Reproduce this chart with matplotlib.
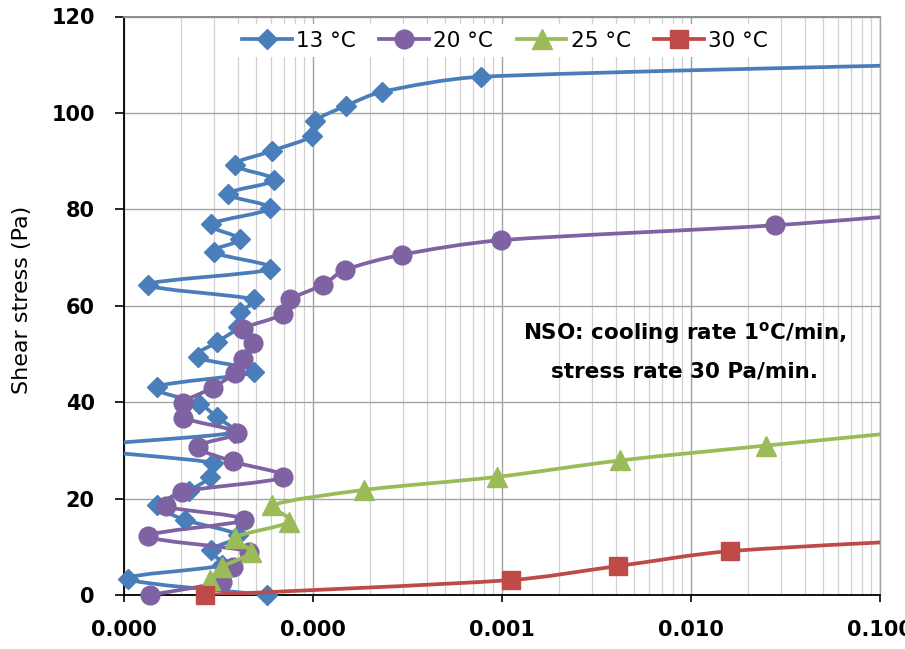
import numpy as np
import matplotlib
matplotlib.use("Agg")
import matplotlib.pyplot as plt
from matplotlib.path import Path
from matplotlib.patches import PathPatch
from matplotlib.lines import Line2D
from matplotlib.ticker import LogLocator, FormatStrFormatter, NullFormatter

# shear rate (1/s) vs shear stress (Pa) for each temperature
stress_13 = [0.0, 3.3, 6.2, 9.4, 12.4, 15.6, 18.7, 21.6, 24.5, 27.4, 30.6, 33.7,
             36.9, 39.7, 43.2, 46.3, 49.3, 52.4, 55.5, 58.6, 61.3, 64.4, 67.6,
             71.1, 73.8, 76.9, 80.2, 83.2, 86.1, 89.2, 92.1, 95.2, 98.3, 101.5,
             104.4, 107.5, 110.5]
rate_13 = [5.7e-5, 1.05e-5, 3.3e-5, 2.9e-5, 4.0e-5, 2.1e-5, 1.5e-5, 2.2e-5,
           2.85e-5, 2.95e-5, 6.5e-6, 3.8e-5, 3.1e-5, 2.5e-5, 1.5e-5, 4.9e-5,
           2.45e-5, 3.1e-5, 4.0e-5, 4.1e-5, 4.9e-5, 1.34e-5, 5.9e-5, 3.0e-5,
           4.1e-5, 2.9e-5, 5.9e-5, 3.55e-5, 6.25e-5, 3.85e-5, 6.05e-5, 9.9e-5,
           1.02e-4, 1.5e-4, 2.33e-4, 7.75e-4, 0.57]

stress_20 = [0.0, 2.8, 5.8, 9.0, 12.2, 15.6, 18.4, 21.4, 24.4, 27.7, 30.8, 33.7,
             36.8, 39.9, 43.0, 46.1, 48.9, 52.2, 55.1, 58.2, 61.3, 64.4, 67.4,
             70.6, 73.6, 76.7, 79.7]
rate_20 = [1.37e-5, 3.3e-5, 3.76e-5, 4.6e-5, 1.34e-5, 4.3e-5, 1.67e-5, 2.02e-5,
           6.9e-5, 3.76e-5, 2.46e-5, 3.95e-5, 2.05e-5, 2.05e-5, 2.95e-5, 3.85e-5,
           4.25e-5, 4.8e-5, 4.25e-5, 6.9e-5, 7.6e-5, 1.135e-4, 1.47e-4, 2.96e-4,
           9.9e-4, 0.0279, 0.25]

stress_25 = [3.1, 5.8, 8.9, 11.9, 15.2, 18.6, 21.8, 24.5, 27.9, 31.0, 34.1]
rate_25 = [2.84e-5, 3.29e-5, 4.7e-5, 3.85e-5, 7.5e-5, 6.1e-5, 1.87e-4, 9.4e-4,
           4.2e-3, 0.025, 0.16]

stress_30 = [0.0, 3.1, 6.0, 9.1, 12.1]
rate_30 = [2.67e-5, 1.11e-3, 4.09e-3, 0.0161, 0.4]

labels = ["13 °C", "20 °C", "25 °C", "30 °C"]
colors = ["#4A7EBB", "#7F62A1", "#9BBB59", "#BE4B48"]
markers = ["D", "o", "^", "s"]
msizes = [10, 13.5, 14, 13]

XMIN, XMAX = 1e-5, 0.1
YMIN, YMAX = 0, 120

fig = plt.figure(figsize=(9.05, 6.49), dpi=100)
ax = fig.add_axes([124 / 905, 1 - 595 / 649, 756 / 905, 578.5 / 649])

# pixels per decade / per Pa, used to shape the smoothed segments
SX = 756 / np.log10(XMAX / XMIN)
SY = 578.5 / (YMAX - YMIN)


def smooth_path(xs, ys):
    # bezier through the points; tangent from the neighbours, arm length
    # capped at a third of the segment so sharp turns don't overshoot
    P = np.column_stack([np.log10(xs) * SX, np.asarray(ys) * SY])
    n = len(P)
    tang = np.empty_like(P)
    tang[0] = P[1] - P[0]
    tang[-1] = P[-1] - P[-2]
    tang[1:-1] = P[2:] - P[:-2]
    verts = [P[0]]
    codes = [Path.MOVETO]
    for i in range(n - 1):
        seg = np.hypot(*(P[i + 1] - P[i]))
        t1, t2 = tang[i], tang[i + 1]
        n1, n2 = np.hypot(*t1), np.hypot(*t2)
        a1 = min(n1 / 6.0, seg / 3.0)
        a2 = min(n2 / 6.0, seg / 3.0)
        c1 = P[i] + (t1 / n1 * a1 if n1 > 0 else 0)
        c2 = P[i + 1] - (t2 / n2 * a2 if n2 > 0 else 0)
        verts += [c1, c2, P[i + 1]]
        codes += [Path.CURVE4] * 3
    verts = np.array(verts, dtype=float)
    verts[:, 0] = 10 ** (verts[:, 0] / SX)
    verts[:, 1] = verts[:, 1] / SY
    return Path(verts, codes)


series = [(rate_13, stress_13), (rate_20, stress_20),
          (rate_25, stress_25), (rate_30, stress_30)]

handles = []
for k, (xs, ys) in enumerate(series):
    xs = np.asarray(xs)
    ys = np.asarray(ys)
    c = colors[k]
    patch = PathPatch(smooth_path(xs, ys), fill=False, edgecolor=c, lw=2.7,
                      zorder=3 + 2 * k, capstyle="round", joinstyle="round")
    ax.add_patch(patch)
    inside = (xs >= XMIN) & (xs <= XMAX)
    ax.plot(xs[inside], ys[inside], ls="none", marker=markers[k],
            ms=msizes[k], color=c, mec=c, mew=1, zorder=4 + 2 * k,
            clip_on=False)
    handles.append(Line2D([], [], color=c, lw=2.7, marker=markers[k],
                          ms=msizes[k], mec=c))

ax.set_xscale("log")
ax.set_xlim(XMIN, XMAX)
ax.set_ylim(YMIN, YMAX)
ax.set_yticks(np.arange(0, 121, 20))
ax.xaxis.set_major_locator(LogLocator(base=10))
ax.xaxis.set_minor_locator(LogLocator(base=10, subs=np.arange(2, 10)))
ax.xaxis.set_major_formatter(FormatStrFormatter("%.3f"))
ax.xaxis.set_minor_formatter(NullFormatter())

ax.set_axisbelow(True)
ax.grid(which="major", color="#a3a3a3", lw=1.0)
ax.grid(which="minor", axis="x", color="#d0d0d0", lw=0.9)

for s in ["left", "bottom"]:
    ax.spines[s].set_color("black")
    ax.spines[s].set_linewidth(1.3)
ax.spines["top"].set_color("#8c8c8c")
ax.spines["top"].set_linewidth(1.4)
ax.spines["right"].set_color("#a3a3a3")
ax.spines["right"].set_linewidth(1.0)

ax.tick_params(axis="both", which="major", direction="out", width=1.2,
               color="black", labelsize=15)
ax.tick_params(axis="y", which="major", length=6.5, pad=14.5)
ax.tick_params(axis="x", which="major", length=5, pad=13)
ax.tick_params(axis="x", which="minor", length=0)
for lab in ax.get_xticklabels() + ax.get_yticklabels():
    lab.set_fontweight("bold")

ax.set_ylabel("Shear stress (Pa)", fontsize=16)
ax.yaxis.set_label_coords(-0.122, 0.51)

leg = ax.legend(handles, labels, loc="center", bbox_to_anchor=(0.504, 0.958),
                ncol=4, fontsize=15.5, frameon=True, facecolor="white",
                edgecolor="none", framealpha=1, fancybox=False,
                handlelength=2.3, handletextpad=0.2, columnspacing=1.1,
                borderpad=0.3, numpoints=1)
leg.set_zorder(20)

plt.rcParams["mathtext.fontset"] = "dejavusans"
ax.text(0.742, 0.4425, r"NSO: cooling rate 1$^{\mathbf{o}}$C/min,",
        transform=ax.transAxes, ha="center", va="baseline",
        fontsize=15.5, fontweight="bold", zorder=15)
ax.text(0.742, 0.3768, "stress rate 30 Pa/min.",
        transform=ax.transAxes, ha="center", va="baseline",
        fontsize=15.5, fontweight="bold", zorder=15)

fig.savefig("out.png", dpi=100)
